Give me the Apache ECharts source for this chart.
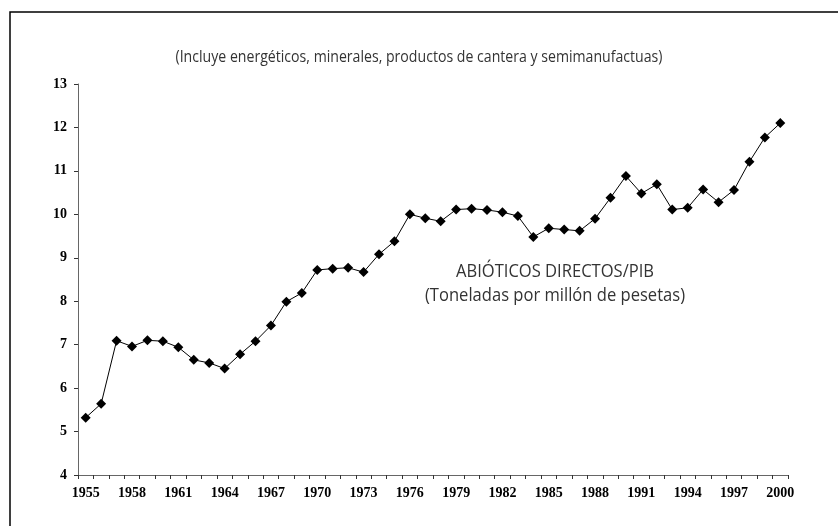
<!DOCTYPE html>
<html>
<head>
<meta charset="utf-8">
<script src="https://cdn.jsdelivr.net/npm/echarts@6/dist/echarts.min.js"></script>
<style>
  html, body { margin: 0; padding: 0; background: #fff; }
  #chart { width: 838px; height: 526px; }
</style>
</head>
<body>
<div id="chart"></div>
<script>
// Años y valores (toneladas por millón de pesetas)
const years = [];
for (let y = 1955; y <= 2000; y++) years.push(String(y));

const abioticos = [
  5.32, 5.64, 7.09, 6.96, 7.10, 7.08, 6.94, 6.65, 6.58, 6.45,
  6.78, 7.08, 7.44, 7.99, 8.19, 8.72, 8.75, 8.77, 8.67, 9.08,
  9.38, 10.00, 9.91, 9.84, 10.11, 10.13, 10.10, 10.05, 9.96, 9.48,
  9.68, 9.65, 9.62, 9.90, 10.38, 10.88, 10.48, 10.69, 10.11, 10.15,
  10.57, 10.28, 10.56, 11.21, 11.77, 12.10
];

const subtitulo = '(Incluye energéticos, minerales, productos de cantera y semimanufactuas)';
const etiqueta = ['ABIÓTICOS DIRECTOS/PIB', '(Toneladas por millón de pesetas)'];

const labelFont = {
  color: '#000',
  fontFamily: 'Liberation Serif',
  fontWeight: 'bold',
  fontSize: 14
};

const chart = echarts.init(document.getElementById('chart'));
chart.setOption({
  animation: false,
  backgroundColor: '#fff',
  grid: { left: 78, right: 50, top: 84, bottom: 51 },
  graphic: [
    {
      type: 'rect',
      shape: { x: 10, y: 12, width: 850, height: 540 },
      style: { fill: 'none', stroke: '#000', lineWidth: 1.5 }
    },
    {
      type: 'text',
      x: 419,
      y: 57,
      scaleX: 0.83,
      style: {
        text: subtitulo,
        fill: '#333',
        align: 'center',
        verticalAlign: 'middle',
        font: '17px "Open Sans", sans-serif'
      }
    },
    {
      type: 'text',
      x: 555,
      y: 284,
      scaleX: 0.92,
      style: {
        text: etiqueta.join('\n'),
        fill: '#333',
        align: 'center',
        verticalAlign: 'middle',
        lineHeight: 24,
        font: '18px "Open Sans", sans-serif'
      }
    }
  ],
  xAxis: {
    type: 'category',
    data: years,
    boundaryGap: true,
    axisLine: { lineStyle: { color: '#666', width: 1 } },
    axisTick: { show: true, interval: 0, length: 4, lineStyle: { color: '#333' } },
    axisLabel: Object.assign({ interval: 2, margin: 11 }, labelFont)
  },
  yAxis: {
    type: 'value',
    min: 4,
    max: 13,
    interval: 1,
    splitLine: { show: false },
    axisLine: { show: true, lineStyle: { color: '#666', width: 1 } },
    axisTick: { show: true, length: 4, lineStyle: { color: '#333' } },
    axisLabel: Object.assign({ margin: 11 }, labelFont)
  },
  series: [{
    type: 'line',
    data: abioticos,
    symbol: 'diamond',
    symbolSize: 10,
    itemStyle: { color: '#000' },
    lineStyle: { color: '#000', width: 1 }
  }]
});
</script>
</body>
</html>
